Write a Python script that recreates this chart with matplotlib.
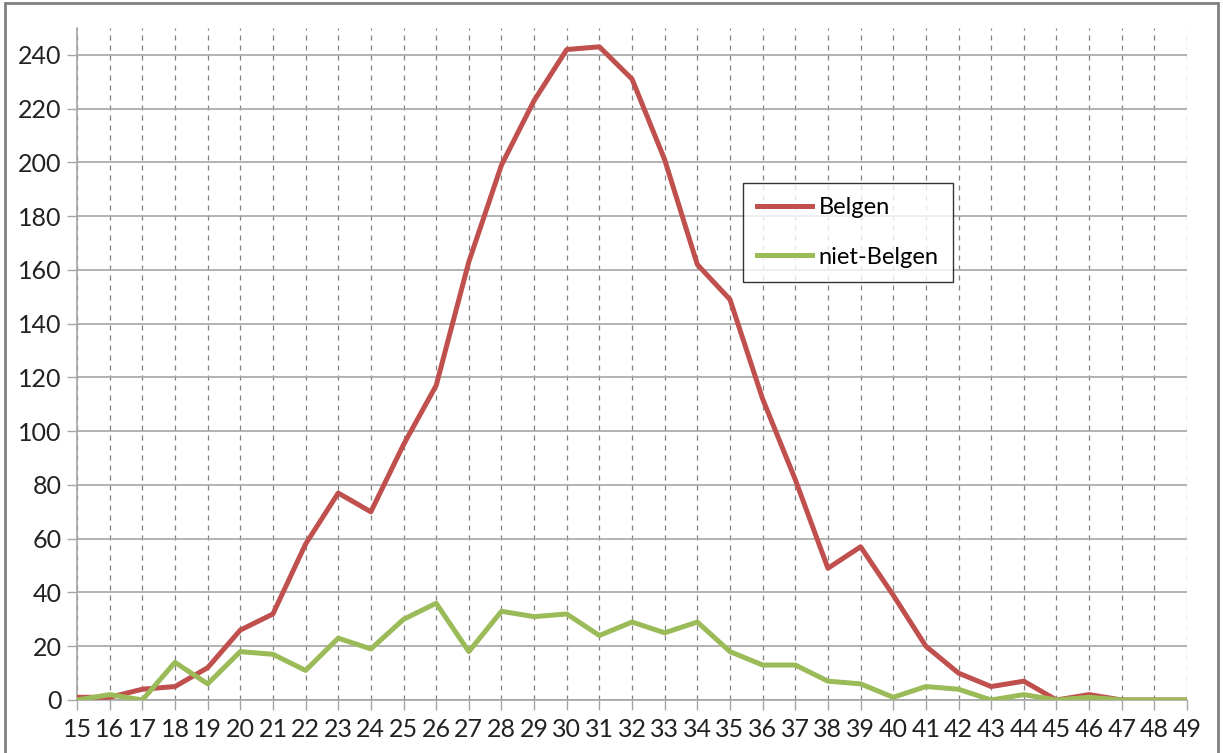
import matplotlib.pyplot as plt
from matplotlib.patches import Rectangle

ages = list(range(15, 50))
belgen = [1, 1, 4, 5, 12, 26, 32, 58, 77, 70, 95, 117, 163, 199, 223, 242, 243,
          231, 201, 162, 149, 112, 82, 49, 57, 39, 20, 10, 5, 7, 0, 2, 0, 0, 0]
niet_belgen = [0, 2, 0, 14, 6, 18, 17, 11, 23, 19, 30, 36, 18, 33, 31, 32, 24,
               29, 25, 29, 18, 13, 13, 7, 6, 1, 5, 4, 0, 2, 0, 1, 0, 0, 0]
yticks = list(range(0, 241, 20))

plt.rcParams['font.family'] = ['Lato', 'DejaVu Sans']
GRID = '#a6a6a6'

fig = plt.figure(figsize=(12.23, 7.53), dpi=100)
ax = fig.add_axes([0.063, 0.0704, 0.9076, 0.8924])

ax.plot(ages, belgen, color='#c0504d', lw=3.6, label='Belgen', solid_joinstyle='round', zorder=3)
ax.plot(ages, niet_belgen, color='#9bbb59', lw=3.6, label='niet-Belgen', solid_joinstyle='round', zorder=3)

ax.set_xlim(15, 49)
ax.set_ylim(0, 250)
ax.set_xticks(ages)
ax.set_yticks(yticks)
ax.tick_params(axis='both', labelsize=18, length=7, width=1, labelcolor='#222222', color=GRID)
ax.tick_params(axis='y', pad=4)
ax.tick_params(axis='x', pad=6)

ax.grid(axis='y', color=GRID, lw=1.2, ls='-')
ax.grid(axis='x', color='#808080', lw=0.9, ls=(0, (4, 4)))
ax.set_axisbelow(True)
for s in ['top', 'right']:
    ax.spines[s].set_visible(False)
for s in ['left', 'bottom']:
    ax.spines[s].set_color(GRID)
    ax.spines[s].set_linewidth(1.2)

leg = ax.legend(loc='upper left', bbox_to_anchor=(0.6, 0.769), fontsize=17,
                frameon=True, fancybox=False, handlelength=2.3, handletextpad=0.3,
                labelspacing=1.2, borderpad=0.6, borderaxespad=0)
leg.get_frame().set_edgecolor('black')
leg.get_frame().set_linewidth(1.0)

fig.patches.append(Rectangle((0.004, -0.01), 0.992, 1.006, transform=fig.transFigure,
                             fill=False, edgecolor='#808080', lw=2))

fig.savefig('out.png', dpi=100)
